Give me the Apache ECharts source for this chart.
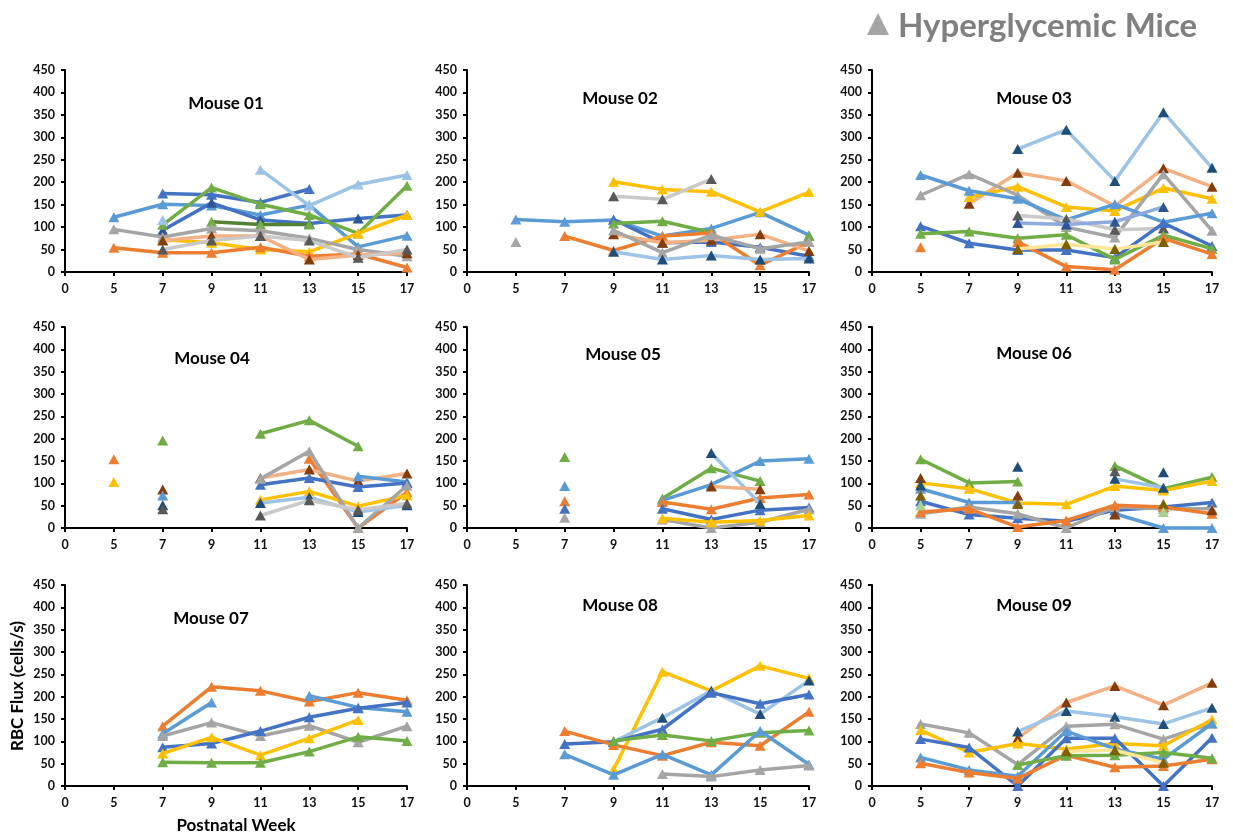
<!DOCTYPE html>
<html><head><meta charset="utf-8">
<script src="https://cdn.jsdelivr.net/npm/echarts/dist/echarts.min.js"></script>
<style>html,body{margin:0;padding:0;background:#fff}#c{width:1233px;height:838px}</style>
</head><body><div id="c"></div>
<script>
const _ = null;
const weeks = ['0','5','7','9','11','13','15','17'];
const yMin = 0, yMax = 450, yStep = 50;
const headerText = 'Hyperglycemic Mice';
const yName = 'RBC Flux (cells/s)';
const xName = 'Postnatal Week';
const mouseNames = ['Mouse 01','Mouse 02','Mouse 03','Mouse 04','Mouse 05','Mouse 06','Mouse 07','Mouse 08','Mouse 09'];

// ---- data (one row per imaging site, columns = weeks) ----
const mouse01 = [
  [_,122,151,148,127,149,56,81],
  [_,_,175,172,155,185,_,_],
  [_,_,93,154,116,108,119,127],
  [_,_,105,188,151,127,86,192],
  [_,_,_,112,106,106,_,_],
  [_,_,72,65,50,45,86,127],
  [_,_,116,_,228,148,195,216],
  [_,95,78,97,92,75,50,35],
  [_,54,43,43,55,35,40,10],
  [_,_,70,80,80,28,38,42],
  [_,_,50,70,80,70,32,50]
];
const mouse02 = [
  [_,67,_,_,_,_,_,_],
  [_,117,112,116,80,97,133,82],
  [_,_,_,117,65,67,55,35],
  [_,_,_,201,184,179,134,178],
  [_,_,_,169,162,207,_,_],
  [_,_,_,108,113,88,_,80],
  [_,_,80,48,80,87,15,67],
  [_,_,_,84,65,71,84,47],
  [_,_,_,93,43,82,52,67],
  [_,_,_,45,28,37,28,30]
];
const mouse03 = [
  [_,_,_,274,317,203,356,232],
  [_,_,152,221,203,147,231,190],
  [_,_,167,190,145,136,187,163],
  [_,171,218,171,100,77,218,92],
  [_,216,181,163,116,151,111,131],
  [_,_,_,126,118,94,97,_],
  [_,_,_,109,106,112,145,_],
  [_,102,64,49,49,32,109,58],
  [_,85,90,75,83,28,82,52],
  [_,55,_,67,12,5,75,40],
  [_,_,_,51,62,51,67,_]
];
const mouse04 = [
  [_,154,_,_,_,155,0,80],
  [_,103,_,_,63,82,49,73],
  [_,_,196,_,211,241,183,_],
  [_,_,86,_,112,131,105,122],
  [_,_,73,_,_,_,116,103],
  [_,_,_,_,97,112,92,101],
  [_,_,_,_,110,172,0,95],
  [_,_,51,_,56,69,36,51],
  [_,_,42,_,28,62,41,55]
];
const mouse05 = [
  [_,_,159,_,66,134,105,_],
  [_,_,94,_,62,97,150,155],
  [_,_,60,_,58,42,67,75],
  [_,_,43,_,43,19,40,46],
  [_,_,23,_,19,0,13,42],
  [_,_,_,_,_,168,54,_],
  [_,_,_,_,_,93,87,_],
  [_,_,_,_,22,13,17,28]
];
const mouse06 = [
  [_,154,101,104,_,139,88,114],
  [_,101,88,56,53,94,84,105],
  [_,88,57,57,_,32,0,0],
  [_,60,30,22,15,40,47,57],
  [_,32,47,32,0,47,43,43],
  [_,36,43,2,17,51,47,32],
  [_,112,_,73,_,30,_,40],
  [_,73,_,54,_,_,54,_],
  [_,95,_,_,_,110,90,_],
  [_,_,_,137,_,_,125,_],
  [_,_,_,_,_,127,_,_],
  [_,51,_,_,_,_,36,_]
];
const mouse07 = [
  [_,_,134,222,213,189,209,192],
  [_,_,117,187,_,202,176,166],
  [_,_,112,142,112,135,98,134],
  [_,_,87,95,123,154,174,187],
  [_,_,73,109,69,107,148,_],
  [_,_,53,52,52,77,110,101]
];
const mouse08 = [
  [_,_,_,37,256,213,269,241],
  [_,_,_,99,153,213,161,236],
  [_,_,94,99,127,209,184,205],
  [_,_,123,92,68,98,90,166],
  [_,_,_,101,114,101,119,124],
  [_,_,71,25,71,25,123,48],
  [_,_,_,_,27,21,36,46]
];
const mouse09 = [
  [_,_,_,107,187,224,181,231],
  [_,_,_,122,168,155,139,175],
  [_,139,119,48,134,138,105,140],
  [_,125,75,95,83,95,90,149],
  [_,105,86,0,107,107,0,108],
  [_,64,36,22,123,83,60,140],
  [_,51,30,17,69,42,45,60],
  [_,_,_,47,68,69,75,62],
  [_,_,_,_,78,80,52,_]
];

// ---- styles ----
const C = {
  blue:'#4472C4', orange:'#ED7D31', gray:'#A5A5A5', gold:'#FFC000', lblue:'#5B9BD5', green:'#70AD47',
  navy:'#2F5597', dblue:'#1F4E79', brown:'#843C0C', dgray:'#595959', dgold:'#7F6000',
  sky:'#9DC3E6', salmon:'#F4B183', lgray:'#C9C9C9', lyellow:'#FFE699', peri:'#8FAADC', dgreen:'#548235', lgreen:'#A9D18E'
};
const styles = [
  [['lblue','lblue'],['blue','blue'],['blue','navy'],['green','green'],['dgreen','green'],['gold','gold'],['sky','sky'],['gray','gray'],['orange','orange'],['salmon','brown'],['lgray','dgray']],
  [['gray','gray'],['lblue','lblue'],['blue','blue'],['gold','gold'],['lgray','dgray'],['green','green'],['orange','orange'],['salmon','brown'],['gray','gray'],['sky','dblue']],
  [['sky','dblue'],['salmon','brown'],['gold','gold'],['gray','gray'],['lblue','lblue'],['lgray','dgray'],['peri','navy'],['blue','blue'],['green','green'],['orange','orange'],['lyellow','dgold']],
  [['orange','orange'],['gold','gold'],['green','green'],['salmon','brown'],['lblue','lblue'],['blue','blue'],['gray','gray'],['sky','dblue'],['lgray','dgray']],
  [['green','green'],['lblue','lblue'],['orange','orange'],['blue','blue'],['gray','gray'],['sky','dblue'],['salmon','brown'],['gold','gold']],
  [['green','green'],['gold','gold'],['lblue','lblue'],['blue','blue'],['gray','gray'],['orange','orange'],['salmon','brown'],['lyellow','dgold'],['sky','dblue'],['sky','dblue'],['lgray','dgray'],['lgreen','lgreen']],
  [['orange','orange'],['lblue','lblue'],['gray','gray'],['blue','blue'],['gold','gold'],['green','green']],
  [['gold','gold'],['sky','dblue'],['blue','blue'],['orange','orange'],['green','green'],['lblue','lblue'],['gray','gray']],
  [['salmon','brown'],['sky','dblue'],['gray','gray'],['gold','gold'],['blue','blue'],['lblue','lblue'],['orange','orange'],['green','green'],['lyellow','dgold']]
];
const allMice = [mouse01, mouse02, mouse03, mouse04, mouse05, mouse06, mouse07, mouse08, mouse09];

const FONT = 'Lato, "Open Sans", sans-serif';
const colLeft = [65, 467, 872], colW = [342, 342, 340];
const rowTop = [70, 327, 585], rowH = [202, 201, 201];
const titlePos = [[226,104],[620,99],[1034,99],[212,359],[623,355],[1034,354],[211,619],[620,606],[1034,606]];

const grids = [], xAxes = [], yAxes = [], series = [], graphics = [];
allMice.forEach((rows, i) => {
  const r = Math.floor(i / 3), c = i % 3;
  grids.push({ left: colLeft[c], top: rowTop[r], width: colW[c], height: rowH[r], containLabel: false });
  xAxes.push({
    type: 'category', gridIndex: i, data: weeks, boundaryGap: false,
    axisLine: { show: true, onZero: false, lineStyle: { color: '#000', width: 2 } },
    axisTick: { show: true, length: 4, lineStyle: { color: '#000', width: 2 } },
    axisLabel: { show: true, interval: 0, color: '#111', fontWeight: 'bold', fontSize: 12.5, fontFamily: FONT, margin: 10 },
    splitLine: { show: false }
  });
  yAxes.push({
    type: 'value', gridIndex: i, min: yMin, max: yMax, interval: yStep,
    axisLine: { show: true, lineStyle: { color: '#000', width: 2 } },
    axisTick: { show: true, length: 4, lineStyle: { color: '#000', width: 2 } },
    axisLabel: { show: true, color: '#111', fontWeight: 'bold', fontSize: 12.5, fontFamily: FONT, margin: 10 },
    splitLine: { show: false }
  });
  rows.forEach((vals, k) => {
    const st = styles[i][k];
    series.push({
      type: 'line', xAxisIndex: i, yAxisIndex: i, data: vals,
      symbol: 'triangle', symbolSize: [11, 10], showSymbol: true, showAllSymbol: true,
      connectNulls: false, clip: false, silent: true,
      lineStyle: { color: C[st[0]], width: 3.5 },
      itemStyle: { color: C[st[1]], borderWidth: 0 },
      emphasis: { disabled: true }, z: 2 + k * 0.01
    });
  });
  graphics.push({
    type: 'text', x: titlePos[i][0], y: titlePos[i][1],
    style: { text: mouseNames[i], font: 'bold 17px ' + FONT, fill: '#000', align: 'center', verticalAlign: 'middle' }
  });
});

graphics.push({ type: 'polygon', shape: { points: [[867,35],[878,13],[889,35]] }, style: { fill: '#A5A5A5' } });
graphics.push({ type: 'text', x: 898, y: 26, style: { text: headerText, font: 'bold 33px ' + FONT, fill: '#808080', align: 'left', verticalAlign: 'middle' } });
graphics.push({ type: 'text', x: 18, y: 686, rotation: Math.PI / 2, style: { text: yName, font: 'bold 17px ' + FONT, fill: '#000', align: 'center', verticalAlign: 'middle' } });
graphics.push({ type: 'text', x: 236, y: 826, style: { text: xName, font: 'bold 17px ' + FONT, fill: '#000', align: 'center', verticalAlign: 'middle' } });

const chart = echarts.init(document.getElementById('c'), null, { renderer: 'canvas' });
chart.setOption({
  animation: false, backgroundColor: '#fff',
  grid: grids, xAxis: xAxes, yAxis: yAxes, series: series, graphic: graphics,
  tooltip: { show: false }
});
</script></body></html>
